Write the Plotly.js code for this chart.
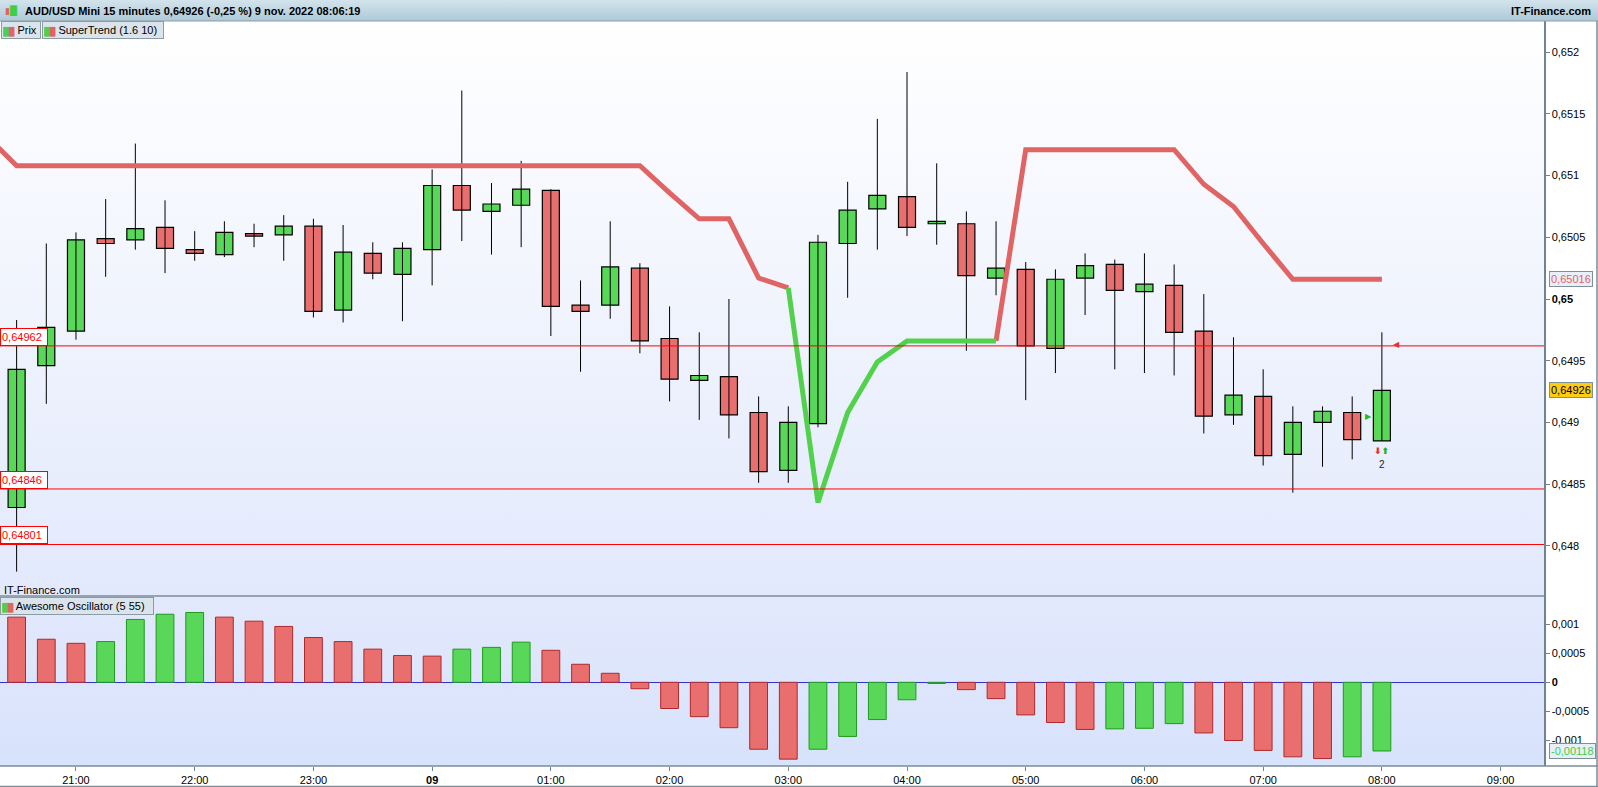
<!DOCTYPE html>
<html>
<head>
<meta charset="utf-8">
<script src="https://cdn.plot.ly/plotly-3.0.1.min.js"></script>
<style>
  html, body { margin: 0; padding: 0; background: #fff; }
  #chart { width: 1598px; height: 787px; }
</style>
</head>
<body>
<div id="chart"></div>
<script>
// 15 minute bars, 8 nov 2022 20:30 -> 9 nov 2022 08:00
var barCount = 47;
var firstBarMin = 20 * 60 + 30;

var opens  = [0.64831, 0.64946, 0.64974, 0.65049, 0.65048, 0.65058, 0.65040, 0.65036, 0.65053, 0.65052,
              0.65059, 0.64991, 0.65037, 0.65020, 0.65040, 0.65092, 0.65071, 0.65076, 0.65088, 0.64995,
              0.64995, 0.65025, 0.64968, 0.64934, 0.64937, 0.64908, 0.64861, 0.64899, 0.65045, 0.65073,
              0.65083, 0.65061, 0.65061, 0.65017, 0.65024, 0.64960, 0.65017, 0.65028, 0.65006, 0.65011,
              0.64974, 0.64906, 0.64921, 0.64874, 0.64900, 0.64908, 0.64885];
var highs  = [0.64983, 0.65045, 0.65054, 0.65081, 0.65126, 0.65080, 0.65055, 0.65063, 0.65061, 0.65068,
              0.65065, 0.65060, 0.65046, 0.65046, 0.65105, 0.65169, 0.65094, 0.65112, 0.65089, 0.65015,
              0.65063, 0.65029, 0.64994, 0.64973, 0.65000, 0.64921, 0.64913, 0.65052, 0.65095, 0.65146,
              0.65184, 0.65110, 0.65071, 0.65063, 0.65030, 0.65024, 0.65037, 0.65032, 0.65037, 0.65028,
              0.65004, 0.64969, 0.64943, 0.64913, 0.64913, 0.64921, 0.64973];
var lows   = [0.64779, 0.64915, 0.64967, 0.65018, 0.65040, 0.65021, 0.65031, 0.65034, 0.65042, 0.65031,
              0.64985, 0.64981, 0.65016, 0.64982, 0.65011, 0.65047, 0.65036, 0.65042, 0.64970, 0.64941,
              0.64984, 0.64956, 0.64917, 0.64902, 0.64887, 0.64851, 0.64851, 0.64896, 0.65001, 0.65040,
              0.65051, 0.65044, 0.64958, 0.65003, 0.64918, 0.64940, 0.64987, 0.64943, 0.64940, 0.64938,
              0.64891, 0.64898, 0.64865, 0.64843, 0.64864, 0.64870, 0.64885];
var closes = [0.64943, 0.64977, 0.65048, 0.65045, 0.65057, 0.65041, 0.65037, 0.65054, 0.65051, 0.65059,
              0.64990, 0.65038, 0.65021, 0.65041, 0.65092, 0.65072, 0.65077, 0.65089, 0.64994, 0.64990,
              0.65026, 0.64966, 0.64935, 0.64938, 0.64906, 0.64860, 0.64900, 0.65046, 0.65072, 0.65084,
              0.65058, 0.65063, 0.65019, 0.65025, 0.64962, 0.65016, 0.65027, 0.65007, 0.65012, 0.64973,
              0.64905, 0.64922, 0.64873, 0.64900, 0.64909, 0.64886, 0.64926];

// SuperTrend (1.6 10): first value belongs to the 20:15 bar, just left of the view
var stValues = [0.65132,
              0.65108, 0.65108, 0.65108, 0.65108, 0.65108, 0.65108, 0.65108, 0.65108, 0.65108, 0.65108,
              0.65108, 0.65108, 0.65108, 0.65108, 0.65108, 0.65108, 0.65108, 0.65108, 0.65108, 0.65108,
              0.65108, 0.65108, 0.65086, 0.65065, 0.65065, 0.65017, 0.65009, 0.64835, 0.64908, 0.64949,
              0.64966, 0.64966, 0.64966, 0.64966, 0.65121, 0.65121, 0.65121, 0.65121, 0.65121, 0.65121,
              0.65093, 0.65075, 0.65045, 0.65016, 0.65016, 0.65016, 0.65016];
var stTrend = ['dn',
              'dn','dn','dn','dn','dn','dn','dn','dn','dn','dn',
              'dn','dn','dn','dn','dn','dn','dn','dn','dn','dn',
              'dn','dn','dn','dn','dn','dn','dn','up','up','up',
              'up','up','up','up','dn','dn','dn','dn','dn','dn',
              'dn','dn','dn','dn','dn','dn','dn'];

// Awesome Oscillator (5 55)
var aoValues = [0.00112, 0.00074, 0.00067, 0.00070, 0.00108, 0.00117, 0.00120, 0.00112, 0.00105, 0.00096,
                0.00077, 0.00070, 0.00057, 0.00046, 0.00045, 0.00057, 0.00060, 0.00069, 0.00055, 0.00031,
                0.000155, -0.00011, -0.00045, -0.00059, -0.00078, -0.00115, -0.00132, -0.00115, -0.00093, -0.00064,
                -0.00030, -0.00002, -0.000126, -0.00028, -0.00056, -0.00069, -0.00081, -0.00080, -0.00079, -0.00071,
                -0.00087, -0.00100, -0.00117, -0.00128, -0.00131, -0.00128, -0.00118];

var levelValues = [0.64962, 0.64846, 0.64801];
var lastPrice = 0.64926;
var lastStValue = 0.65016;
var lastAo = -0.00118;

var priceTicks = [0.648, 0.6485, 0.649, 0.6495, 0.65, 0.6505, 0.651, 0.6515, 0.652];
var priceTickText = ['0,648', '0,6485', '0,649', '0,6495', '<b>0,65</b>', '0,6505', '0,651', '0,6515', '0,652'];
var aoTicks = [-0.001, -0.0005, 0, 0.0005, 0.001];
var aoTickText = ['-0,001', '-0,0005', '<b>0</b>', '0,0005', '0,001'];
var hourTicks = ['2022-11-08 21:00', '2022-11-08 22:00', '2022-11-08 23:00', '2022-11-09 00:00',
                 '2022-11-09 01:00', '2022-11-09 02:00', '2022-11-09 03:00', '2022-11-09 04:00',
                 '2022-11-09 05:00', '2022-11-09 06:00', '2022-11-09 07:00', '2022-11-09 08:00',
                 '2022-11-09 09:00'];
var hourLabels = ['21:00', '22:00', '23:00', '<b>09</b>', '01:00', '02:00', '03:00', '04:00',
                  '05:00', '06:00', '07:00', '08:00', '09:00'];

function pad(n) { return (n < 10 ? '0' : '') + n; }
function stamp(min) {
  var day = min >= 1440 ? '2022-11-09' : '2022-11-08';
  var m = min % 1440;
  return day + ' ' + pad(Math.floor(m / 60)) + ':' + pad(m % 60);
}
function comma(v) { return String(v).replace('.', ','); }

var times = [];
for (var i = 0; i < barCount; i++) times.push(stamp(firstBarMin + 15 * i));
var stTimes = [stamp(firstBarMin - 15)].concat(times);

var GREEN = '#58d758', RED = '#e96f6f';
var FONT = 'Liberation Sans, Arial, sans-serif';

// candles: wicks + bodies
var wickX = [], wickY = [], bodyBase = [], bodyLen = [], bodyCol = [];
for (i = 0; i < barCount; i++) {
  wickX.push(times[i], times[i], null);
  wickY.push(lows[i], highs[i], null);
  bodyBase.push(Math.min(opens[i], closes[i]));
  bodyLen.push(Math.abs(closes[i] - opens[i]));
  bodyCol.push(closes[i] >= opens[i] ? GREEN : RED);
}

// supertrend split by trend; a segment takes the colour of the bar it ends on
var stRed = [], stGreen = [];
for (i = 0; i < stValues.length; i++) {
  var dn = stTrend[i] === 'dn';
  var nextDn = i + 1 < stValues.length ? stTrend[i + 1] === 'dn' : dn;
  stRed.push(dn || nextDn ? stValues[i] : null);
  stGreen.push(!dn || !nextDn ? stValues[i] : null);
}

// AO colours: green when rising
var aoFill = [], aoEdge = [];
for (i = 0; i < aoValues.length; i++) {
  var up = i > 0 && aoValues[i] > aoValues[i - 1];
  aoFill.push(up ? GREEN : RED);
  aoEdge.push(up ? '#1f9a1f' : '#b0282c');
}

var traces = [
  { type: 'scatter', mode: 'lines', x: wickX, y: wickY, xaxis: 'x', yaxis: 'y',
    line: { color: '#000', width: 1 }, hoverinfo: 'skip' },
  { type: 'bar', x: times, y: bodyLen, base: bodyBase, width: 516000, xaxis: 'x', yaxis: 'y',
    marker: { color: bodyCol, line: { color: '#000', width: 1.2 } } },
  { type: 'scatter', mode: 'lines', x: stTimes, y: stRed, xaxis: 'x', yaxis: 'y', connectgaps: false,
    line: { color: '#e06464', width: 5 } },
  { type: 'scatter', mode: 'lines', x: stTimes, y: stGreen, xaxis: 'x', yaxis: 'y', connectgaps: false,
    line: { color: '#52d14c', width: 5 } },
  { type: 'bar', x: times, y: aoValues, width: 540000, xaxis: 'x', yaxis: 'y2',
    marker: { color: aoFill, line: { color: aoEdge, width: 1 } } }
];

function gradient(c1, c2) {
  var svg = '<svg xmlns="http://www.w3.org/2000/svg" width="10" height="100" preserveAspectRatio="none">' +
    '<defs><linearGradient id="g" x1="0" y1="0" x2="0" y2="1">' +
    '<stop offset="0" stop-color="' + c1 + '"/><stop offset="1" stop-color="' + c2 + '"/>' +
    '</linearGradient></defs><rect width="10" height="100" fill="url(#g)"/></svg>';
  return 'data:image/svg+xml;charset=utf-8,' + encodeURIComponent(svg);
}

var W = 1544, H = 745;           // plot area in px
var split = 170 / H;             // oscillator panel height
var pageTop = 1 + 21 / H;        // top of the page

var shapes = [];
levelValues.forEach(function (v) {
  shapes.push({ type: 'line', xref: 'paper', yref: 'y', x0: 0, x1: 1, y0: v, y1: v,
    line: { color: '#ff0000', width: 1 }, layer: 'above' });
});
shapes.push({ type: 'line', xref: 'paper', yref: 'paper', x0: 0, x1: 1, y0: split, y1: split,
  line: { color: '#7a8c99', width: 1.5 } });
shapes.push({ type: 'line', xref: 'paper', yref: 'paper', x0: 0, x1: 1598 / W, y0: 1, y1: 1,
  line: { color: '#8a9ca8', width: 1 } });
shapes.push({ type: 'line', xref: 'paper', yref: 'paper', x0: 0, x1: 1598 / W, y0: 0, y1: 0,
  line: { color: '#7a8c99', width: 1.5 } });
shapes.push({ type: 'line', xref: 'paper', yref: 'paper', x0: 1597 / W, x1: 1597 / W, y0: -21 / H, y1: 1,
  line: { color: '#7a8c99', width: 1.5 } });
shapes.push({ type: 'line', xref: 'paper', yref: 'paper', x0: 0, x1: 1598 / W, y0: -20.5 / H, y1: -20.5 / H,
  line: { color: '#7a8c99', width: 1.5 } });

var tabStyle = { xref: 'paper', yref: 'paper', xanchor: 'left', yanchor: 'middle', showarrow: false,
  bgcolor: '#dbe4ea', bordercolor: '#8a9ca8', borderwidth: 1, borderpad: 1,
  font: { family: FONT, size: 11, color: '#000' } };
function tab(text, x, y, w) {
  return Object.assign({}, tabStyle, { text: text, x: x, y: y, width: w, height: 14, align: 'left' });
}
var icon = '<span style="font-size:8px"><span style="color:#4fcf4f">█</span><span style="color:#e06464">█</span></span> ';

var annotations = [
  { xref: 'paper', yref: 'paper', x: 23 / W, y: (766 - 11) / H, xanchor: 'left', yanchor: 'middle',
    showarrow: false, text: '<b>AUD/USD Mini 15 minutes ' + comma(lastPrice) + ' (-0,25 %) 9 nov. 2022 08:06:19</b>',
    font: { family: FONT, size: 11, color: '#000' } },
  { xref: 'paper', yref: 'paper', x: 3 / W, y: (766 - 11) / H, xanchor: 'left', yanchor: 'middle',
    showarrow: false, text: '<span style="color:#e06464">▮</span><span style="color:#3fcf3f">█</span>',
    font: { family: 'DejaVu Sans', size: 9 } },
  { xref: 'paper', yref: 'paper', x: 1593 / W, y: (766 - 11) / H, xanchor: 'right', yanchor: 'middle',
    showarrow: false, text: '<b>IT-Finance.com</b>', font: { family: FONT, size: 11, color: '#000' } },
  tab(icon + 'Prix', 1 / W, (766 - 30) / H, 36),
  tab(icon + 'SuperTrend (1.6 10)', 42 / W, (766 - 30) / H, 118),
  tab(icon + 'Awesome Oscillator (5 55)', 0, (766 - 605.5) / H, 150),
  { xref: 'paper', yref: 'paper', x: 2 / W, y: (766 - 590) / H, xanchor: 'left', yanchor: 'middle',
    showarrow: false, text: 'IT-Finance.com', font: { family: FONT, size: 11, color: '#000' } },
  // right axis value boxes
  { xref: 'paper', yref: 'y', x: 1, xshift: 5, y: lastStValue, xanchor: 'left', yanchor: 'middle',
    showarrow: false, text: comma(lastStValue), bgcolor: '#e9eff8', bordercolor: '#7f8f9a', borderwidth: 1,
    borderpad: 1, font: { family: FONT, size: 11, color: '#e06464' } },
  { xref: 'paper', yref: 'y', x: 1, xshift: 5, y: lastPrice, xanchor: 'left', yanchor: 'middle',
    showarrow: false, text: comma(lastPrice), bgcolor: '#ffcc11', bordercolor: '#7f8f9a', borderwidth: 1,
    borderpad: 1, font: { family: FONT, size: 11, color: '#000' } },
  { xref: 'paper', yref: 'y2', x: 1, xshift: 5, y: lastAo, xanchor: 'left', yanchor: 'middle',
    showarrow: false, text: comma(lastAo), bgcolor: '#e9eff8', bordercolor: '#7f8f9a', borderwidth: 1,
    borderpad: 1, font: { family: FONT, size: 11, color: '#3fcf3f' } },
  // small signals next to the last bar
  { xref: 'x', yref: 'y', x: '2022-11-09 07:53', y: 0.64905, showarrow: false, text: '▶',
    font: { family: 'DejaVu Sans', size: 8, color: '#22bb22' } },
  { xref: 'x', yref: 'y', x: '2022-11-09 08:07:30', y: 0.64963, showarrow: false, text: '◀',
    font: { family: 'DejaVu Sans', size: 8, color: '#dd3333' } },
  { xref: 'x', yref: 'y', x: times[barCount - 1], y: 0.64877, showarrow: false,
    text: '<b><span style="color:#e03535">⬇</span><span style="color:#22b022">⬆</span></b>',
    font: { family: 'DejaVu Sans', size: 9 } },
  { xref: 'x', yref: 'y', x: times[barCount - 1], y: 0.64866, showarrow: false, text: '2',
    font: { family: FONT, size: 10, color: '#222' } }
];
levelValues.forEach(function (v) {
  annotations.push({ xref: 'paper', yref: 'y', x: 0, y: v, xanchor: 'left', yanchor: 'bottom',
    showarrow: false, text: comma(v), width: 44, height: 14, align: 'left', borderpad: 1,
    bgcolor: '#ffffff', bordercolor: '#ff0000', borderwidth: 1,
    font: { family: FONT, size: 11, color: '#ff0000' } });
});

var axisLine = '#6f8393';
var layout = {
  width: 1598, height: 787,
  margin: { l: 0, r: 54, t: 21, b: 21, pad: 0 },
  paper_bgcolor: '#ffffff', plot_bgcolor: 'rgba(0,0,0,0)',
  showlegend: false, hovermode: false, bargap: 0,
  font: { family: FONT, size: 11, color: '#000' },
  xaxis: {
    type: 'date', anchor: 'y2', range: ['2022-11-08 20:21:36', '2022-11-09 09:21:56'],
    tickmode: 'array', tickvals: hourTicks, ticktext: hourLabels,
    ticks: 'outside', ticklen: 4, tickcolor: axisLine, showgrid: false, zeroline: false,
    showline: false, tickfont: { family: FONT, size: 11, color: '#000' }
  },
  yaxis: {
    domain: [split, 1], anchor: 'x', side: 'right', range: [0.6475924, 0.6522536],
    tickmode: 'array', tickvals: priceTicks, ticktext: priceTickText,
    ticks: 'outside', ticklen: 4, tickcolor: axisLine, showgrid: false, zeroline: false,
    showline: true, linecolor: axisLine, linewidth: 1.5, mirror: true,
    tickfont: { family: FONT, size: 11, color: '#000' }
  },
  yaxis2: {
    domain: [0, split], anchor: 'x', side: 'right', range: [-0.001438, 0.001483],
    tickmode: 'array', tickvals: aoTicks, ticktext: aoTickText,
    ticks: 'outside', ticklen: 4, tickcolor: axisLine, showgrid: false,
    zeroline: true, zerolinecolor: '#3333cc', zerolinewidth: 1.5,
    showline: true, linecolor: axisLine, linewidth: 1.5, mirror: true,
    tickfont: { family: FONT, size: 11, color: '#000' }
  },
  images: [
    { source: gradient('#d3e3ec', '#aec9d8'), xref: 'paper', yref: 'paper', x: 0, y: pageTop,
      sizex: 1598 / W, sizey: 21 / H, xanchor: 'left', yanchor: 'top', sizing: 'stretch', layer: 'below' },
    { source: gradient('#ffffff', '#e2e9fc'), xref: 'paper', yref: 'paper', x: 0, y: 1,
      sizex: 1, sizey: 1 - split, xanchor: 'left', yanchor: 'top', sizing: 'stretch', layer: 'below' },
    { source: gradient('#e3e9fd', '#d7e2fb'), xref: 'paper', yref: 'paper', x: 0, y: split,
      sizex: 1, sizey: split, xanchor: 'left', yanchor: 'top', sizing: 'stretch', layer: 'below' }
  ],
  shapes: shapes,
  annotations: annotations
};

Plotly.newPlot('chart', traces, layout, { displayModeBar: false, staticPlot: true });
</script>
</body>
</html>
